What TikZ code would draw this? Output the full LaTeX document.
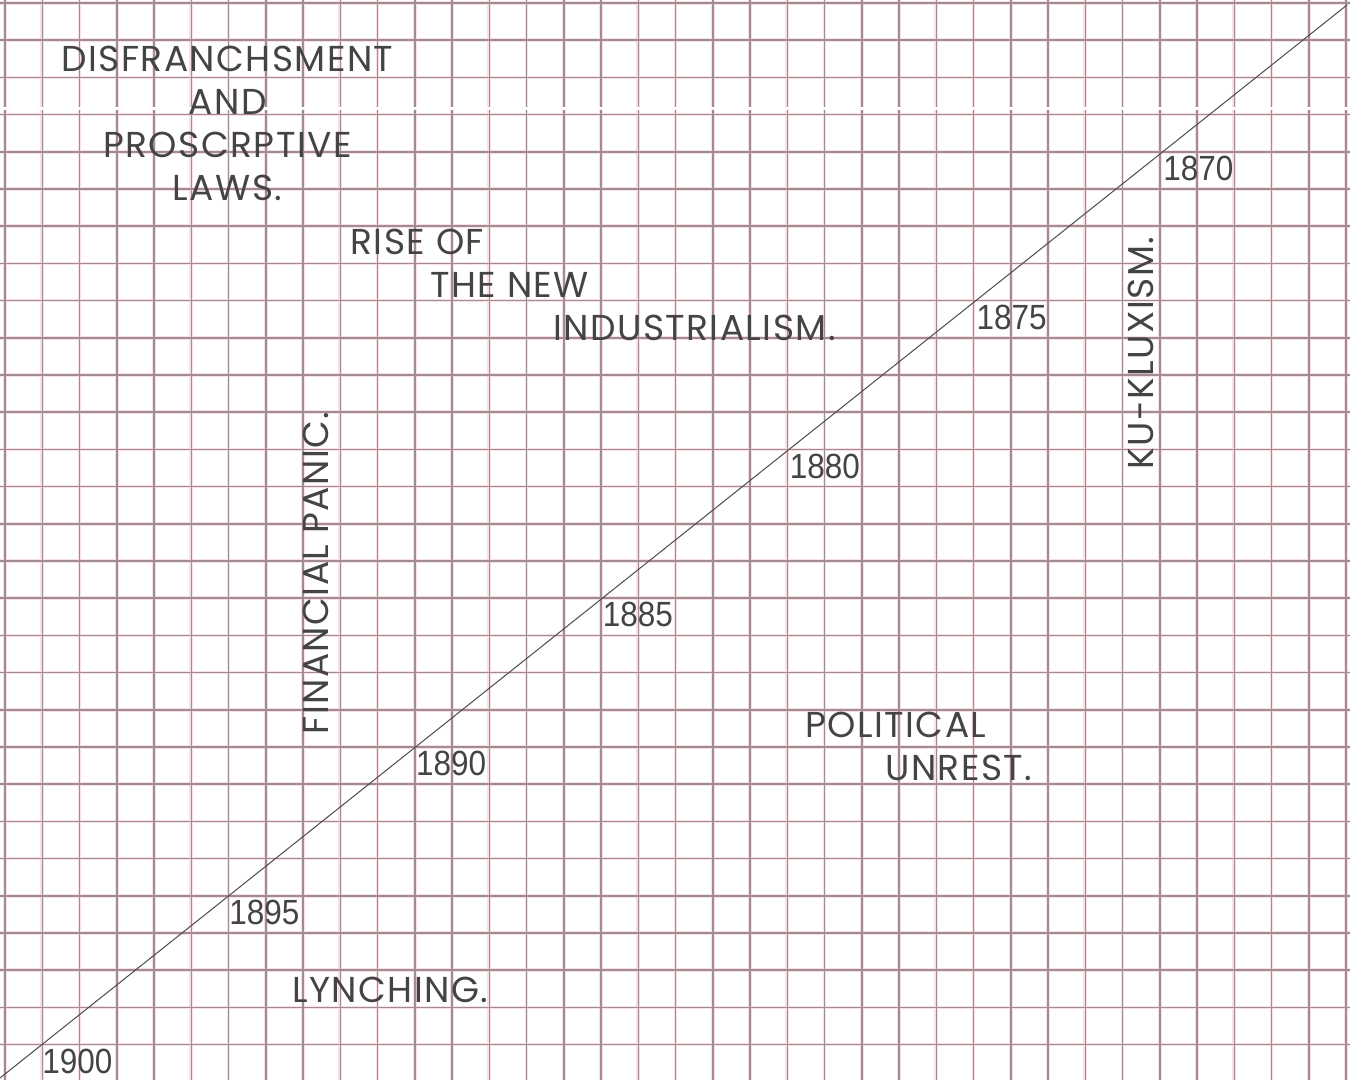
\documentclass[tikz,border=0pt]{standalone}
\usepackage{fontspec}
\setmainfont{Poppins}[LetterSpace=4]
\newfontfamily\yearfont[FakeStretch=0.9]{Liberation Sans}
\usetikzlibrary{positioning}
\definecolor{gridcore}{RGB}{160,140,146}
\definecolor{gridglow}{RGB}{248,224,227}
\definecolor{ink}{RGB}{68,68,68}
\tikzset{
	glowline/.style={gridglow, line width=1.8pt},
	coreline/.style={gridcore, line width=0.75pt},
	diag/.style={black!70, line width=0.5pt},
	cause/.style={text=ink, inner sep=0pt, font=\fontsize{18}{21.5}\selectfont},
	yearlabel/.style={text=ink, inner sep=0pt, anchor=north west, font=\yearfont\fontsize{17.5}{20}\selectfont}
}
\begin{document}
\begin{tikzpicture}[x=0.5pt, y=-0.5pt]
\useasboundingbox[fill=white] (0,0) rectangle (1350,1080);
% ruled paper
\foreach \k in {0,...,36} \draw[glowline] (5+37.25*\k,0) -- (5+37.25*\k,1080);
\foreach \k in {0,...,28} \draw[glowline] (0,3+37.2*\k) -- (1350,3+37.2*\k);
\foreach \k in {0,...,36} \draw[coreline] (5+37.25*\k,0) -- (5+37.25*\k,1080);
\foreach \k in {0,...,28} \draw[coreline] (0,3+37.2*\k) -- (1350,3+37.2*\k);
\fill[white] (0,107) rectangle (1350,110.5);

\coordinate (start) at (0,1078);
\coordinate (end) at (1347,5);
\draw[diag] (start) -- (end);

\foreach \yr [count=\i from 0] in {1900,1895,1890,1885,1880,1875,1870}{
  \pgfmathsetmacro\p{0.0312+0.1387*\i}
  \path (start) -- (end) node[yearlabel, pos=\p, yshift=-2pt] (y\yr) {\yr};
}

\node[cause, anchor=base] (dis1) at (227.5,72) {DISFRANCHSMENT};
\node[cause, anchor=base] (dis2) at (227.5,114.5) {AND};
\node[cause, anchor=base] (dis3) at (227.5,157.5) {PROSCRPTIVE};
\node[cause, anchor=base] (dis4) at (227.5,200.5) {LAWS.};

\node[cause, anchor=base west] (rise1) at (350,254.5) {RISE OF};
\node[cause, anchor=base west] (rise2) at (430,297.5) {THE NEW};
\node[cause, anchor=base west] (rise3) at (553,340.5) {INDUSTRIALISM.};

\node[cause, anchor=base, rotate=90] (kukl) at (1153,353) {KU-KLUXISM.};
\node[cause, anchor=base, rotate=90] (panic) at (328,573) {FINANCIAL PANIC.};

\node[cause, anchor=base west] (pol1) at (805,737.5) {POLITICAL};
\node[cause, anchor=base west] (pol2) at (885,780.5) {UNREST.};

\node[cause, anchor=base west] (lynch) at (292,1002) {LYNCHING.};
\end{tikzpicture}
\end{document}
